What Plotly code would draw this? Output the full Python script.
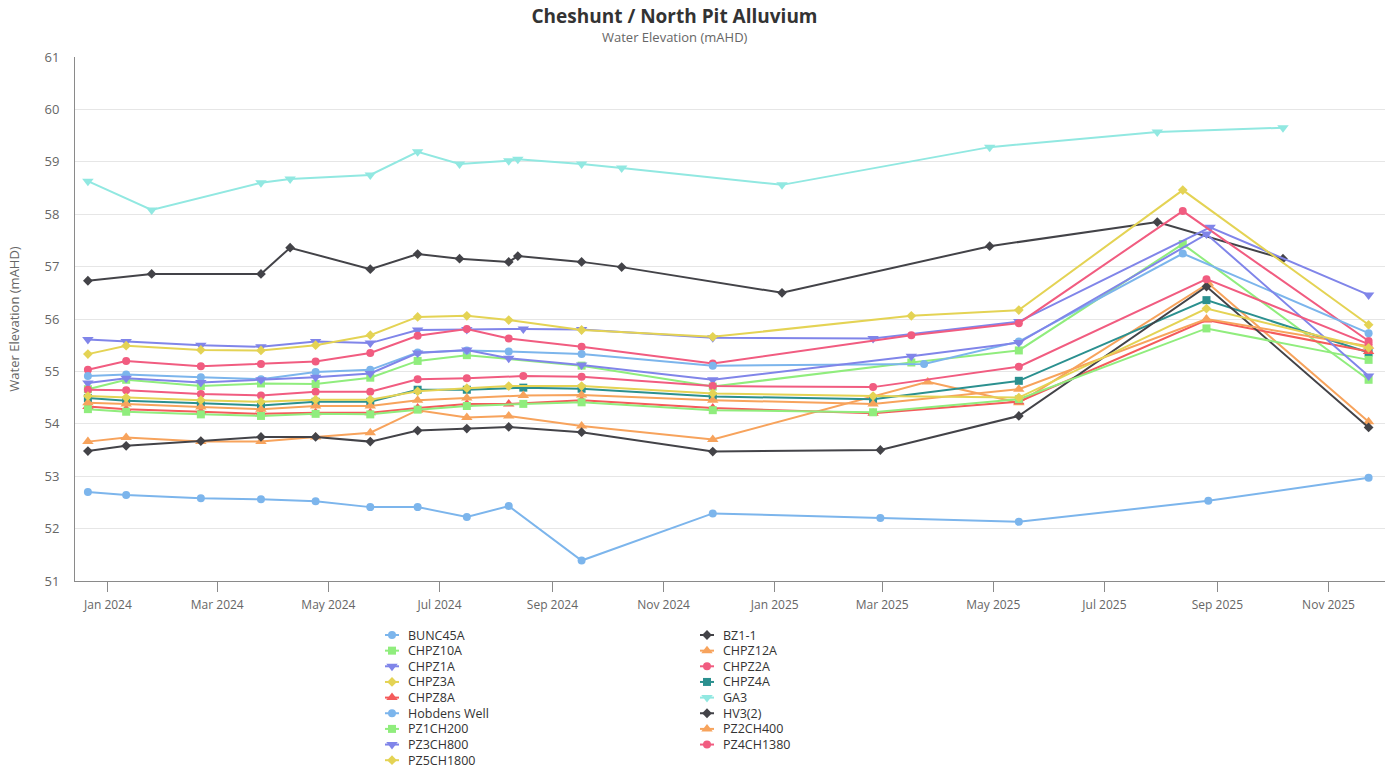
import plotly.graph_objects as go

# ---------------- text ----------------
title_text = "Cheshunt / North Pit Alluvium"
subtitle_text = "Water Elevation (mAHD)"
y_title = "Water Elevation (mAHD)"

# ---------------- series meta ----------------
series_names = ["BUNC45A", "BZ1-1", "CHPZ10A", "CHPZ12A", "CHPZ1A", "CHPZ2A",
                "CHPZ3A", "CHPZ4A", "CHPZ8A", "GA3", "Hobdens Well", "HV3(2)",
                "PZ1CH200", "PZ2CH400", "PZ3CH800", "PZ4CH1380", "PZ5CH1800"]
palette = ["#7cb5ec", "#434348", "#90ed7d", "#f7a35c", "#8085e9",
           "#f15c80", "#e4d354", "#2b908f", "#f45b5b", "#91e8e1"]
symbol_cycle = ["circle", "diamond", "square", "triangle-up", "triangle-down"]

# ---------------- dates / values ----------------
BASE = ["2023-12-21", "2024-01-11", "2024-02-21", "2024-03-25",
        "2024-04-24", "2024-05-24", "2024-06-19"]
GA_DATES = ["2023-12-21", "2024-01-25", "2024-03-25", "2024-04-10", "2024-05-24",
            "2024-06-19", "2024-07-12", "2024-08-08", "2024-08-13", "2024-09-17",
            "2024-10-09", "2025-01-05", "2025-04-29", "2025-07-30", "2025-10-07"]

BUNC45A_dates = BASE + ["2024-07-16", "2024-08-08", "2024-09-17", "2024-11-28",
                        "2025-02-28", "2025-05-15", "2025-08-27", "2025-11-23"]
BUNC45A_values = [52.70, 52.64, 52.58, 52.56, 52.52, 52.41, 52.41,
                  52.22, 52.43, 51.39, 52.29, 52.20, 52.13, 52.53, 52.97]

BZ1_1_dates = GA_DATES
BZ1_1_values = [56.73, 56.86, 56.86, 57.36, 56.95, 57.24, 57.15, 57.09,
                57.20, 57.09, 56.99, 56.50, 57.39, 57.85, 57.15]

CHPZ10A_dates = BASE + ["2024-07-16", "2024-09-17", "2024-11-28", "2025-03-17",
                        "2025-05-15", "2025-08-13", "2025-11-23"]
CHPZ10A_values = [54.66, 54.84, 54.72, 54.77, 54.76, 54.88, 55.20,
                  55.31, 55.11, 54.71, 55.17, 55.40, 57.43, 54.84]

CHPZ12A_dates = BASE + ["2024-07-16", "2024-08-08", "2024-09-17", "2024-11-28",
                        "2025-03-26", "2025-05-15", "2025-08-27", "2025-11-23"]
CHPZ12A_values = [53.66, 53.74, 53.66, 53.66, 53.75, 53.83, 54.26,
                  54.12, 54.15, 53.96, 53.70, 54.80, 54.40, 56.68, 54.04]

CHPZ1A_dates = BASE + ["2024-07-16", "2024-08-16", "2024-09-17", "2024-11-28",
                       "2025-02-24", "2025-05-15", "2025-08-28", "2025-11-23"]
CHPZ1A_values = [55.61, 55.57, 55.50, 55.47, 55.57, 55.54, 55.79,
                 55.80, 55.81, 55.80, 55.64, 55.63, 55.95, 57.75, 56.46]

CHPZ2A_dates = BASE + ["2024-07-16", "2024-08-08", "2024-09-17", "2024-11-28",
                       "2025-03-17", "2025-05-15", "2025-08-13", "2025-11-23"]
CHPZ2A_values = [55.03, 55.20, 55.10, 55.14, 55.19, 55.35, 55.68,
                 55.81, 55.63, 55.47, 55.15, 55.69, 55.92, 58.06, 55.58]

CHPZ3A_dates = BASE + ["2024-07-16", "2024-08-08", "2024-09-17", "2024-11-28",
                       "2025-03-17", "2025-05-15", "2025-08-13", "2025-11-23"]
CHPZ3A_values = [55.33, 55.49, 55.41, 55.40, 55.50, 55.69, 56.04,
                 56.06, 55.98, 55.79, 55.66, 56.06, 56.17, 58.46, 55.89]

CHPZ4A_dates = BASE + ["2024-07-16", "2024-08-16", "2024-09-17", "2024-11-28",
                       "2025-02-24", "2025-05-15", "2025-08-26", "2025-11-23"]
CHPZ4A_values = [54.49, 54.44, 54.39, 54.35, 54.42, 54.42, 54.65,
                 54.65, 54.69, 54.67, 54.52, 54.47, 54.82, 56.36, 55.36]

CHPZ8A_dates = BASE + ["2024-07-16", "2024-08-08", "2024-09-17", "2024-11-28",
                       "2025-02-24", "2025-05-15", "2025-08-26", "2025-11-23"]
CHPZ8A_values = [54.33, 54.28, 54.23, 54.19, 54.21, 54.21, 54.30,
                 54.38, 54.38, 54.45, 54.30, 54.20, 54.42, 55.98, 55.38]

GA3_dates = GA_DATES
GA3_values = [58.63, 58.08, 58.60, 58.67, 58.75, 59.19, 58.96, 59.02,
              59.05, 58.96, 58.88, 58.56, 59.28, 59.57, 59.65]

Hobdens_dates = BASE + ["2024-07-16", "2024-08-08", "2024-09-17", "2024-11-28",
                        "2025-03-24", "2025-05-15", "2025-08-13", "2025-11-23"]
Hobdens_values = [54.91, 54.94, 54.89, 54.85, 54.99, 55.03, 55.36,
                  55.40, 55.38, 55.33, 55.11, 55.14, 55.57, 57.25, 55.73]

HV3_dates = BASE + ["2024-07-16", "2024-08-08", "2024-09-17", "2024-11-28",
                    "2025-02-28", "2025-05-15", "2025-08-26", "2025-11-23"]
HV3_values = [53.48, 53.58, 53.67, 53.75, 53.75, 53.66, 53.87,
              53.91, 53.94, 53.84, 53.47, 53.50, 54.15, 56.62, 53.93]

PZ1CH200_dates = BASE + ["2024-07-16", "2024-08-16", "2024-09-17", "2024-11-28",
                         "2025-02-24", "2025-05-15", "2025-08-26", "2025-11-23"]
PZ1CH200_values = [54.28, 54.23, 54.18, 54.15, 54.19, 54.18, 54.27,
                   54.34, 54.38, 54.41, 54.26, 54.22, 54.47, 55.82, 55.22]

PZ2CH400_dates = BASE + ["2024-07-16", "2024-08-16", "2024-09-17", "2024-11-28",
                         "2025-02-24", "2025-05-15", "2025-08-26", "2025-11-23"]
PZ2CH400_values = [54.40, 54.38, 54.32, 54.28, 54.34, 54.34, 54.45,
                   54.49, 54.54, 54.55, 54.45, 54.38, 54.66, 56.00, 55.48]

PZ3CH800_dates = BASE + ["2024-07-16", "2024-08-08", "2024-09-17", "2024-11-28",
                         "2025-03-17", "2025-05-15", "2025-08-26", "2025-11-23"]
PZ3CH800_values = [54.78, 54.87, 54.79, 54.84, 54.89, 54.96, 55.35,
                   55.41, 55.25, 55.12, 54.84, 55.29, 55.55, 57.62, 54.91]

PZ4CH1380_dates = BASE + ["2024-07-16", "2024-08-16", "2024-09-17", "2024-11-28",
                          "2025-02-24", "2025-05-15", "2025-08-26", "2025-11-23"]
PZ4CH1380_values = [54.65, 54.64, 54.57, 54.54, 54.61, 54.61, 54.85,
                    54.87, 54.91, 54.90, 54.72, 54.70, 55.09, 56.76, 55.52]

PZ5CH1800_dates = BASE + ["2024-07-16", "2024-08-08", "2024-09-17", "2024-11-28",
                          "2025-02-24", "2025-05-15", "2025-08-26", "2025-11-23"]
PZ5CH1800_values = [54.53, 54.50, 54.45, 54.42, 54.46, 54.46, 54.62,
                    54.68, 54.72, 54.72, 54.58, 54.53, 54.50, 56.20, 55.45]

series_dates = [BUNC45A_dates, BZ1_1_dates, CHPZ10A_dates, CHPZ12A_dates,
                CHPZ1A_dates, CHPZ2A_dates, CHPZ3A_dates, CHPZ4A_dates,
                CHPZ8A_dates, GA3_dates, Hobdens_dates, HV3_dates,
                PZ1CH200_dates, PZ2CH400_dates, PZ3CH800_dates,
                PZ4CH1380_dates, PZ5CH1800_dates]
series_values = [BUNC45A_values, BZ1_1_values, CHPZ10A_values, CHPZ12A_values,
                 CHPZ1A_values, CHPZ2A_values, CHPZ3A_values, CHPZ4A_values,
                 CHPZ8A_values, GA3_values, Hobdens_values, HV3_values,
                 PZ1CH200_values, PZ2CH400_values, PZ3CH800_values,
                 PZ4CH1380_values, PZ5CH1800_values]

y_ticks = [51, 52, 53, 54, 55, 56, 57, 58, 59, 60, 61]

# ---------------- layout geometry ----------------
# The page's default 8px body margin is removed by post_script below,
# so the figure fills the 1391x771 window from its top-left corner.
W, H = 1391, 771
ML, MR, MT, MB = 75, 6, 57, 5
paper_w = W - ML - MR
paper_h = H - MT - MB
plot_bottom_px = 581
main_dom_bottom = (H - MB - plot_bottom_px) / paper_h

FONT = "Open Sans, Noto Sans, sans-serif"
AXIS_COLOR = "#8a8a8a"

fig = go.Figure()

def size_for(sym):
    if sym in ("circle", "square"):
        return 8
    if sym == "diamond":
        return 7.5
    return 10

for i, name in enumerate(series_names):
    color = palette[i % len(palette)]
    sym = symbol_cycle[i % len(symbol_cycle)]
    fig.add_trace(go.Scatter(
        x=series_dates[i], y=series_values[i], name=name,
        mode="lines+markers",
        line=dict(color=color, width=2),
        marker=dict(color=color, symbol=sym, size=size_for(sym)),
        showlegend=False, xaxis="x", yaxis="y",
    ))

# ---------------- custom two-column legend (row-major like the reference) ----------------
leg_col_marker = [392 - ML, 707 - ML]      # offsets from the plot's left edge
leg_text_gap = 14
leg_row0 = 635 - MT                          # offset from the plot's top edge
leg_row_step = 15.65
annotations = []
for i, name in enumerate(series_names):
    color = palette[i % len(palette)]
    sym = symbol_cycle[i % len(symbol_cycle)]
    col, row = i % 2, i // 2
    u = leg_col_marker[col]
    v = leg_row0 + leg_row_step * row
    fig.add_trace(go.Scatter(
        x=[u], y=[v], mode="markers", showlegend=False, hoverinfo="skip",
        marker=dict(color=color, symbol=sym, size=size_for(sym)),
        error_x=dict(type="constant", value=7, width=0, thickness=2, color=color),
        xaxis="x2", yaxis="y2",
    ))
    annotations.append(dict(
        x=u + leg_text_gap, y=v, xref="x2", yref="y2", text=name,
        showarrow=False, xanchor="left", yanchor="middle",
        font=dict(family=FONT, size=12.5, color="#333333"),
    ))

# subtitle
annotations.append(dict(
    x=(675 - ML) / paper_w, y=1 + (MT - 37) / paper_h, xref="paper", yref="paper",
    text=subtitle_text, showarrow=False, xanchor="center", yanchor="middle",
    font=dict(family=FONT, size=13, color="#666666"),
))

fig.update_layout(
    width=W, height=H,
    margin=dict(l=ML, r=MR, t=MT, b=MB, autoexpand=False),
    paper_bgcolor="white", plot_bgcolor="rgba(0,0,0,0)",
    font=dict(family=FONT, color="#666666"),
    title=dict(
        text="<b>" + title_text + "</b>",
        x=674.5 / W, xref="container", xanchor="center",
        y=1 - 16 / H, yref="container", yanchor="middle",
        font=dict(family=FONT, size=19, color="#333333"),
    ),
    xaxis=dict(
        type="date", range=["2023-12-13 22:00", "2025-12-02"],
        domain=[0, 1], anchor="y",
        showgrid=False, zeroline=False,
        showline=True, linecolor=AXIS_COLOR, linewidth=1,
        ticks="outside", ticklen=10, tickcolor=AXIS_COLOR,
        tick0="2024-01-01", dtick="M2", tickformat="%b %Y",
        ticklabelstandoff=3,
        tickfont=dict(family=FONT, size=12, color="#666666"),
    ),
    yaxis=dict(
        domain=[main_dom_bottom, 1], anchor="x",
        range=[51, 61], tickvals=y_ticks,
        showgrid=True, gridcolor="#e6e6e6", gridwidth=1, zeroline=False,
        showline=True, linecolor=AXIS_COLOR, linewidth=1,
        ticks="", ticklabelstandoff=12,
        tickfont=dict(family=FONT, size=13, color="#666666"),
        title=dict(text=y_title, standoff=21,
                   font=dict(family=FONT, size=13, color="#666666")),
    ),
    xaxis2=dict(domain=[0, 1], anchor="y2", range=[0, paper_w], visible=False, fixedrange=True),
    yaxis2=dict(domain=[0, 1], anchor="x2", range=[paper_h, 0], visible=False, fixedrange=True),
    annotations=annotations,
)

fig.write_html(
    "out.html",
    config={"displayModeBar": False},
    post_script="document.body.style.margin='0';document.body.style.overflow='hidden';",
)
